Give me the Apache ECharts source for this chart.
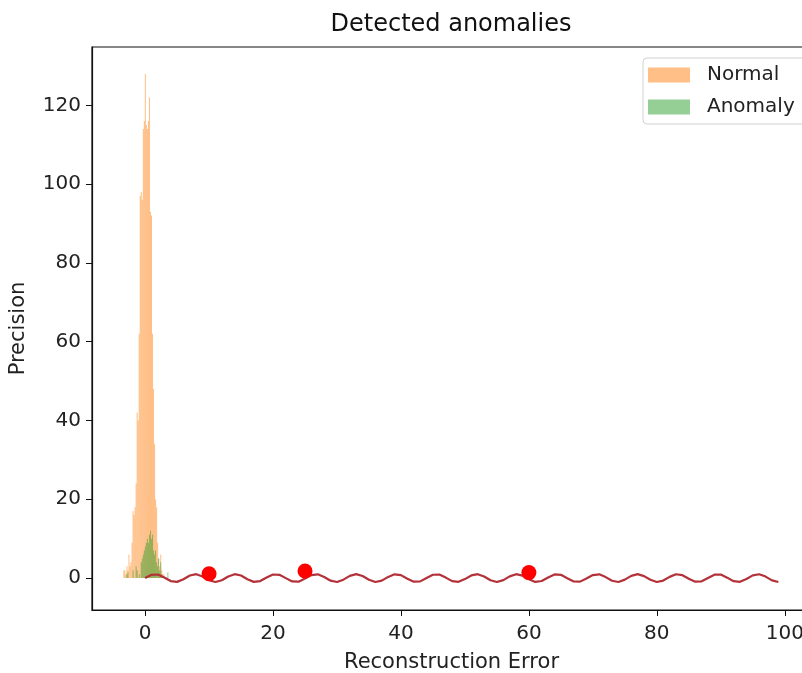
<!DOCTYPE html>
<html>
<head>
<meta charset="utf-8">
<script src="https://cdn.jsdelivr.net/npm/echarts@6/dist/echarts.min.js"></script>
<style>
html,body{margin:0;padding:0;background:#fff;}
#chart{width:802px;height:673px;}
</style>
</head>
<body>
<div id="chart"></div>
<script>
// ---- data ----
const titleText = 'Detected anomalies';
const xAxisName = 'Reconstruction Error';
const yAxisName = 'Precision';
const seriesNames = ['Normal', 'Anomaly'];

// histogram bins (equal width) starting at binStart
const binStart = -3.4;
const binWidth = 0.16;
const normalCounts = [2, 2, 1, 3, 2, 6, 3, 4, 9, 17, 16, 18, 24, 42, 40, 62, 97, 98, 96, 114, 116, 128, 115, 114, 116, 122, 93, 92, 62, 48, 34, 20, 18, 9, 5, 3, 6, 2, 1, 1, 0, 0, 0, 0, 0];
const anomalyCounts = [0, 0, 0, 1, 1.5, 0, 0, 0, 0, 2, 0, 0, 3, 2, 0, 1, 0, 4, 5, 6, 7, 8, 9, 10, 9, 11, 12, 10, 11, 7, 6, 7, 4, 3, 5, 2, 4, 1, 0, 0, 0, 0, 0, 1.5, 0];

// reconstruction-error curve
const curveX = [];
for (let i = 0; i <= 99; i++) curveX.push(i);
const curveY = [0.00, 0.84, 0.91, 0.14, -0.76, -0.96, -0.28, 0.66, 0.99, 0.41,
  -0.54, -1.00, -0.54, 0.42, 0.99, 0.65, -0.29, -0.96, -0.75, 0.15,
  0.91, 0.84, -0.01, -0.85, -0.91, -0.13, 0.76, 0.96, 0.27, -0.66,
  -0.99, -0.40, 0.55, 1.00, 0.53, -0.43, -0.99, -0.64, 0.30, 0.96,
  0.75, -0.16, -0.92, -0.83, 0.02, 0.85, 0.90, 0.12, -0.77, -0.95,
  -0.26, 0.67, 0.99, 0.40, -0.56, -1.00, -0.52, 0.44, 0.99, 0.64,
  -0.30, -0.97, -0.74, 0.17, 0.92, 0.83, -0.03, -0.86, -0.90, -0.11,
  0.77, 0.95, 0.25, -0.68, -0.99, -0.39, 0.57, 1.00, 0.51, -0.44,
  -0.99, -0.63, 0.31, 0.97, 0.73, -0.18, -0.92, -0.82, 0.04, 0.86,
  0.89, 0.11, -0.78, -0.95, -0.25, 0.68, 0.98, 0.38, -0.57, -1.00];

// detected anomaly points
const anomX = [10, 25, 60];
const anomY = [1.1, 1.8, 1.4];

// axes
const xTicks = [0, 20, 40, 60, 80, 100];
const yTicks = [0, 20, 40, 60, 80, 100, 120];
const xMin = -8.3, xMax = 104.1;
const yMin = -8.1, yMax = 134.8;

// ---- build ----
const orange = 'rgba(255,127,14,0.5)';
const green = 'rgba(44,160,44,0.5)';

function binsToData(counts) {
  return counts.map((c, i) => [binStart + i * binWidth, binStart + (i + 1) * binWidth, c]);
}
function histRender(color) {
  return function (params, api) {
    const x0 = api.value(0), x1 = api.value(1), h = api.value(2);
    if (!h) return null;
    const p0 = api.coord([x0, 0]);
    const p1 = api.coord([x1, h]);
    return {
      type: 'rect',
      shape: { x: p0[0], y: p1[1], width: p1[0] - p0[0], height: p0[1] - p1[1] },
      style: { fill: color }
    };
  };
}

const font = 'DejaVu Sans';
const chart = echarts.init(document.getElementById('chart'), null, { renderer: 'canvas' });
chart.setOption({
  animation: false,
  backgroundColor: '#fff',
  textStyle: { fontFamily: font },
  graphic: [{
    type: 'text', x: 451, y: 25,
    style: { text: titleText, font: '24px "DejaVu Sans"', fill: '#111', textAlign: 'center', textVerticalAlign: 'middle' }
  }],
  grid: {
    left: 92, top: 47, width: 719, height: 563,
    show: true, borderColor: '#111', borderWidth: 1.2, backgroundColor: 'transparent',
    containLabel: false, outerBoundsMode: 'none'
  },
  legend: {
    data: seriesNames,
    orient: 'vertical',
    left: 643, top: 58,
    icon: 'rect',
    itemWidth: 42, itemHeight: 15,
    itemGap: 12,
    padding: [7, 20, 7, 5],
    borderColor: '#d0d0d0', borderWidth: 1, borderRadius: 4,
    backgroundColor: 'rgba(255,255,255,0.8)',
    textStyle: { fontFamily: font, fontSize: 20, color: '#222', padding: [0, 0, 0, 12] }
  },
  xAxis: {
    type: 'value', min: xMin, max: xMax,
    name: xAxisName, nameLocation: 'middle', nameGap: 42,
    nameTextStyle: { fontFamily: font, fontSize: 21, color: '#222' },
    axisLine: { show: true, onZero: false, lineStyle: { color: '#111', width: 1.2 } },
    axisTick: { show: true, length: 6, lineStyle: { color: '#111' }, customValues: xTicks },
    axisLabel: { fontFamily: font, fontSize: 20, color: '#222', margin: 14, customValues: xTicks },
    splitLine: { show: false }
  },
  yAxis: {
    type: 'value', min: yMin, max: yMax,
    name: yAxisName, nameLocation: 'middle', nameGap: 63, nameRotate: 90,
    nameTextStyle: { fontFamily: font, fontSize: 21, color: '#222' },
    axisLine: { show: true, onZero: false, lineStyle: { color: '#111', width: 1.2 } },
    axisTick: { show: true, length: 6, lineStyle: { color: '#111' }, customValues: yTicks },
    axisLabel: { fontFamily: font, fontSize: 20, color: '#222', margin: 11, customValues: yTicks },
    splitLine: { show: false }
  },
  series: [
    {
      name: seriesNames[0], type: 'custom',
      itemStyle: { color: orange },
      encode: { x: [0, 1], y: 2 },
      data: binsToData(normalCounts),
      renderItem: histRender(orange), z: 2
    },
    {
      name: seriesNames[1], type: 'custom',
      itemStyle: { color: green },
      encode: { x: [0, 1], y: 2 },
      data: binsToData(anomalyCounts),
      renderItem: histRender(green), z: 3
    },
    {
      name: 'error', type: 'line',
      data: curveX.map((x, i) => [x, curveY[i]]),
      showSymbol: false, symbol: 'none',
      lineStyle: { color: '#b3323a', width: 2.2 },
      z: 4
    },
    {
      name: 'detected', type: 'scatter',
      data: anomX.map((x, i) => [x, anomY[i]]),
      symbolSize: 15,
      itemStyle: { color: '#f00', opacity: 1 },
      z: 5
    }
  ]
});
</script>
</body>
</html>
